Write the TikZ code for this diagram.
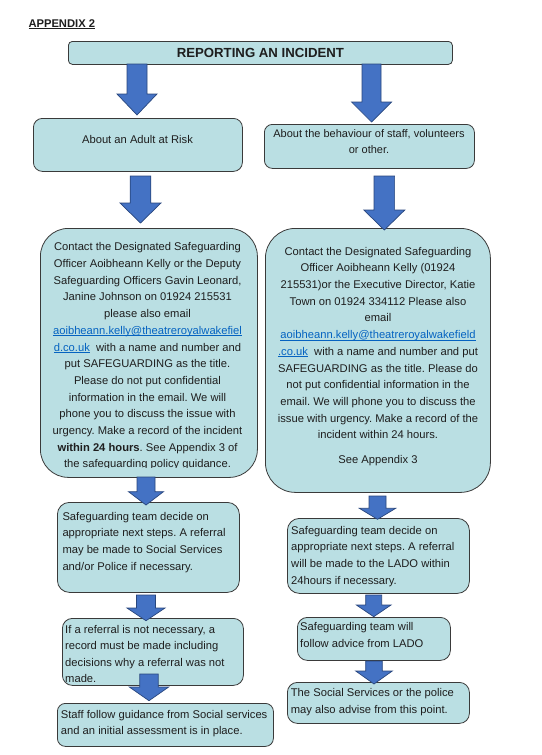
\documentclass[tikz,border=0pt]{standalone}
\usepackage{fontspec}
\setmainfont{Liberation Sans}
\usetikzlibrary{positioning}
\frenchspacing

\definecolor{boxfill}{RGB}{186,223,227}
\definecolor{boxline}{RGB}{58,58,58}
\definecolor{arrowfill}{RGB}{68,114,196}
\definecolor{arrowline}{RGB}{40,70,125}
\definecolor{linkblue}{RGB}{5,99,193}
\definecolor{inktext}{RGB}{30,30,30}

% underlined text with a fixed rule under the baseline
\newcommand{\ulrule}[2][0.6pt]{\setbox0\hbox{#2}\rlap{\rule[-1.7pt]{\wd0}{#1}}\box0}
\newcommand{\maillink}[1]{\textcolor{linkblue}{\ulrule{#1}}}
% block arrow pointing down: x, top, head top, tip, shaft half, head half
\newcommand{\blockdown}[6]{\draw[bigarrow] (#1-#5,#2) -- (#1+#5,#2) -- (#1+#5,#3) -- (#1+#6,#3) -- (#1,#4) -- (#1-#6,#3) -- (#1-#5,#3) -- cycle;}

\tikzset{
  box/.style={draw=boxline, fill=boxfill, line width=0.8pt, inner sep=0pt, anchor=north west},
  bigarrow/.style={draw=arrowline, fill=arrowfill, line width=0.7pt, line join=miter},
  txt/.style={inner sep=0pt, text=inktext, font=\fontsize{11.2}{16.7}\selectfont},
  midtxt/.style={txt, align=center, anchor=north},
  lefttxt/.style={txt, align=left, anchor=north west},
}

\begin{document}
\begin{tikzpicture}[x=1pt,y=-1pt]
\useasboundingbox[fill=white] (0,0) rectangle (541,755);

% Heading
\node[txt, anchor=base west, font=\fontsize{11.2}{13}\selectfont\bfseries] (appendix) at (28.3,27.3) {\ulrule[0.8pt]{APPENDIX 2}};

%Shape: title box
\node[box, rounded corners=4pt, minimum width=384pt, minimum height=23pt,
      font=\fontsize{13.2}{15}\selectfont\bfseries, text=inktext] (title) at (68,41) {REPORTING AN INCIDENT};

%Shape: first row
\node[box, rounded corners=9pt, minimum width=209pt, minimum height=53pt] (adult) at (33,118) {};
\node[box, rounded corners=8pt, minimum width=210pt, minimum height=44pt] (staff) at (264,124) {};

%Shape: contact boxes
\node[box, rounded corners=28pt, minimum width=217pt, minimum height=249pt] (contactL) at (40,228) {};
\node[box, rounded corners=30pt, minimum width=225pt, minimum height=264pt] (contactR) at (265,228) {};

%Shape: left column
\node[box, rounded corners=12pt, minimum width=182pt, minimum height=90pt] (decideL) at (57,502) {};
\node[box, rounded corners=10pt, minimum width=181pt, minimum height=67pt] (recordL) at (62,618) {};
\node[box, rounded corners=8pt, minimum width=216pt, minimum height=43pt] (guideL) at (57,703) {};

%Shape: right column
\node[box, rounded corners=12pt, minimum width=182pt, minimum height=75pt] (decideR) at (287,518) {};
\node[box, rounded corners=10pt, minimum width=153pt, minimum height=43pt] (ladoR) at (297,617) {};
\node[box, rounded corners=10pt, minimum width=182pt, minimum height=41pt] (policeR) at (287,682) {};

% Text Node
\node[midtxt] (adulttxt) at (137.5,134.8) {About an Adult at Risk};
% Text Node
\node[midtxt, font=\fontsize{11}{16}\selectfont] (stafftxt) at (369,129.8) {About the behaviour of staff, volunteers\\or other.};

% Text Node
\begin{scope}
\clip (40,228) rectangle (257,467);
\node[midtxt] (contactLtxt) at (147.5,242.5) {Contact the Designated Safeguarding\\
Officer Aoibheann Kelly or the Deputy\\
Safeguarding Officers Gavin Leonard,\\
Janine Johnson on 01924 215531\\
please also email\\
\maillink{aoibheann.kelly@theatreroyalwakefiel}\\
\maillink{d.co.uk}\ \ with a name and number and\\
put SAFEGUARDING as the title.\\
Please do not put confidential\\
information in the email. We will\\
phone you to discuss the issue with\\
urgency. Make a record of the incident\\
\textbf{within 24 hours}. See Appendix 3 of\\
the safeguarding policy guidance.};
\end{scope}

% Text Node
\node[midtxt] (contactRtxt) at (378,246.8) {Contact the Designated Safeguarding\\
Officer Aoibheann Kelly (01924\\
215531)or the Executive Director, Katie\\
Town on 01924 334112 Please also\\
email\\
\maillink{aoibheann.kelly@theatreroyalwakefield}\\
\maillink{.co.uk}\ \ with a name and number and put\\
SAFEGUARDING as the title. Please do\\
not put confidential information in the\\
email. We will phone you to discuss the\\
issue with urgency. Make a record of the\\
incident within 24 hours.\\[8pt]
See Appendix 3};

% Text Node
\node[lefttxt] (decideLtxt) at (62.3,511.8) {Safeguarding team decide on\\
appropriate next steps. A referral\\
may be made to Social Services\\
and/or Police if necessary.};
% Text Node
\begin{scope}
\clip (62,618) rectangle (243,681.5);
\node[lefttxt, font=\fontsize{11.2}{16.3}\selectfont] (recordLtxt) at (65,625.1) {If a referral is not necessary, a\\
record must be made including\\
decisions why a referral was not\\
made.};
\end{scope}
% Text Node
\node[lefttxt, font=\fontsize{11.2}{15.7}\selectfont] (guideLtxt) at (60.7,710.1) {Staff follow guidance from Social services\\
and an initial assessment is in place.};

% Text Node
\node[lefttxt] (decideRtxt) at (291,525.8) {Safeguarding team decide on\\
appropriate next steps. A referral\\
will be made to the LADO within\\
24hours if necessary.};
% Text Node
\node[lefttxt] (ladoRtxt) at (300,622.5) {Safeguarding team will\\
follow advice from LADO};
% Text Node
\node[lefttxt, font=\fontsize{11.2}{17}\selectfont] (policeRtxt) at (290.7,688.1) {The Social Services or the police\\
may also advise from this point.};

%Shape: block arrows
\blockdown{137}{64}{94}{115}{10}{20}
\blockdown{371.5}{64}{102}{122}{9.5}{20}
\blockdown{140.5}{176}{203}{223}{10.3}{20.5}
\blockdown{384.3}{176}{210}{230}{10.3}{20.5}
\blockdown{146}{477}{491.7}{505}{9}{17.5}
\blockdown{146}{595}{608}{620.7}{9.5}{19}
\blockdown{149}{674}{687}{700.7}{9.2}{19.7}
\blockdown{377.5}{496}{508.3}{519.3}{8.5}{18.2}
\blockdown{373.7}{595}{605}{616.7}{8}{17.3}
\blockdown{374}{661}{671}{684}{8.3}{18.3}

\end{tikzpicture}
\end{document}
